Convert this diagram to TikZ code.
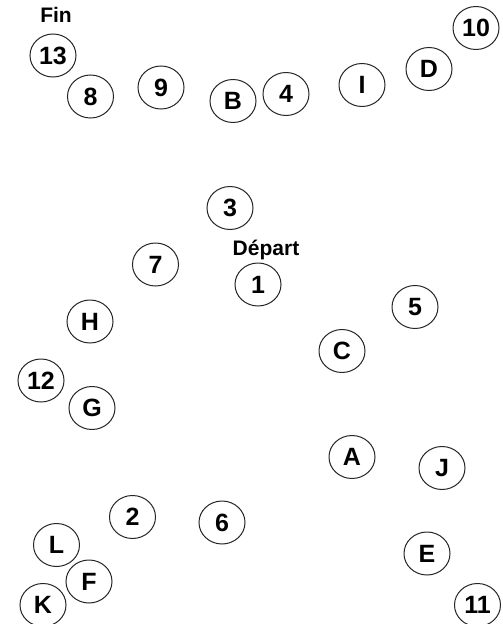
\documentclass[tikz,border=0pt]{standalone}
\usepackage{fontspec}
\setmainfont{Liberation Sans}
\usetikzlibrary{shapes.geometric}
\begin{document}
\begin{tikzpicture}[x=1pt,y=-1pt,
  ring/.style={draw=black!85,line width=1pt,ellipse,minimum width=46pt,minimum height=43pt,inner sep=0pt,font=\fontsize{25}{25}\selectfont\bfseries},
  tag/.style={inner sep=0pt,font=\fontsize{21}{21}\selectfont\bfseries}]
\useasboundingbox (0,0) rectangle (503,624);
\node[tag] (fin) at (56,15) {Fin};
\node[tag] (depart) at (266,250) {Départ};
\node[ring] (n13) at (53,55.5) {13};
\node[ring] (n8) at (90.5,96.5) {8};
\node[ring] (n9) at (161,87.5) {9};
\node[ring] (nB) at (233,101) {B};
\node[ring] (n4) at (286,94) {4};
\node[ring] (nI) at (362,85) {I};
\node[ring] (nD) at (429,69) {D};
\node[ring] (n10) at (476,28) {10};
\node[ring] (n3) at (230,208) {3};
\node[ring] (n7) at (155.5,264.5) {7};
\node[ring] (n1) at (258,284.5) {1};
\node[ring] (nH) at (90,321.5) {H};
\node[ring] (n5) at (415,307) {5};
\node[ring] (nC) at (342,351) {C};
\node[ring] (n12) at (41,380.5) {12};
\node[ring] (nG) at (92,408) {G};
\node[ring] (nA) at (352,457) {A};
\node[ring] (nJ) at (442,468) {J};
\node[ring] (n2) at (132.5,517) {2};
\node[ring] (n6) at (222,522.5) {6};
\node[ring] (nL) at (56.5,545) {L};
\node[ring] (nE) at (427,553.5) {E};
\node[ring] (nF) at (89,581.5) {F};
\node[ring] (nK) at (43,605) {K};
\node[ring] (n11) at (477.5,605) {11};
\end{tikzpicture}
\end{document}
